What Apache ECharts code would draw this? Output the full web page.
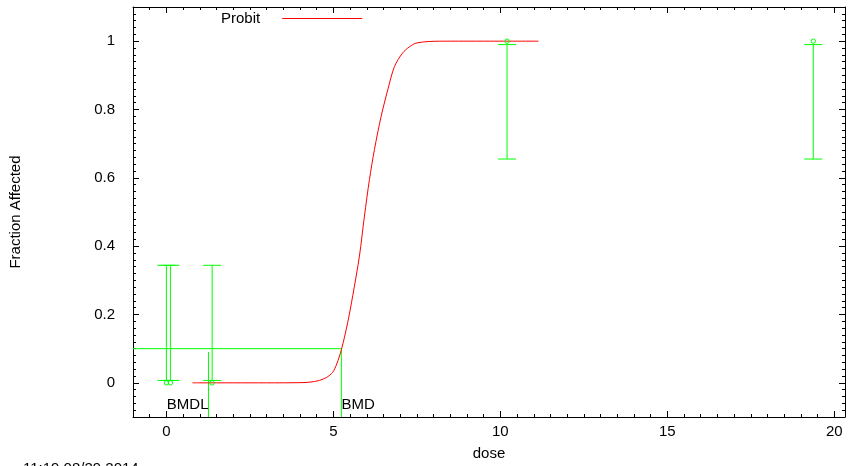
<!DOCTYPE html>
<html>
<head>
<meta charset="utf-8">
<script src="https://cdn.jsdelivr.net/npm/echarts@6/dist/echarts.min.js"></script>
<style>
  html, body { margin: 0; padding: 0; background: #fff; }
  #chart { width: 848px; height: 466px; }
</style>
</head>
<body>
<div id="chart"></div>
<script>
// axis ranges + tick labels
const doseMin = -1
const doseMax = 20.32
const fracMin = -0.1
const fracMax = 1.1
const doseTicks = [0, 5, 10, 15, 20]
const fracTicks = [0, 0.2, 0.4, 0.6, 0.8, 1]

// fitted probit curve
const curveDose = [0.78, 1, 2, 3, 4, 4.3, 4.58, 4.8, 4.98, 5.1, 5.24, 5.43, 5.58, 5.78, 5.93, 6.08, 6.23, 6.43, 6.63, 6.83, 7.07, 7.27, 7.47, 7.87, 8.5, 9.5, 11.14]
const curveFrac = [0, 0, 0, 0, 0.0005, 0.002, 0.007, 0.016, 0.031, 0.055, 0.097, 0.177, 0.255, 0.371, 0.488, 0.595, 0.683, 0.78, 0.858, 0.926, 0.965, 0.983, 0.994, 0.999, 1, 1, 1]

// observed points with confidence limits
const obsDose = [0, 0.12, 1.37, 10.2, 19.37]
const obsFrac = [0, 0, 0, 1, 1]
const obsLower = [0.007, 0.007, 0.007, 0.655, 0.655]
const obsUpper = [0.344, 0.344, 0.344, 0.99, 0.99]

// benchmark dose
const bmr = 0.1
const bmd = 5.24
const bmdl = 1.26
const bmdlTop = 0.09

const green = '#00ff00'
const font = 'Liberation Sans, Arial, sans-serif'

// minor tick positions (gnuplot style ticks)
const doseMinor = []
for (let v = -1; v <= doseMax; v += 0.5) doseMinor.push(v)
const fracMinor = []
for (let i = -5; i <= 55; i++) fracMinor.push(+(i * 0.02).toFixed(2))

const xAx = (pos, major, showLine, showLabel) => ({
  type: 'value', position: pos, min: doseMin, max: doseMax,
  name: showLabel ? 'dose' : '', nameLocation: 'middle', nameGap: 29,
  nameTextStyle: {color: '#000', fontSize: 15, fontFamily: font},
  axisLine: {show: showLine, onZero: false, lineStyle: {color: '#000', width: 1}},
  axisTick: {show: true, inside: true, length: major ? 6 : 3, customValues: major ? doseTicks : doseMinor, lineStyle: {color: '#000'}},
  axisLabel: {show: showLabel, customValues: doseTicks, margin: 7, color: '#000', fontSize: 15, fontFamily: font},
  splitLine: {show: false}
})
const yAx = (pos, major, showLine, showLabel) => ({
  type: 'value', position: pos, min: fracMin, max: fracMax,
  name: showLabel ? 'Fraction Affected' : '', nameLocation: 'middle', nameGap: 110,
  nameTextStyle: {color: '#000', fontSize: 15, fontFamily: font},
  axisLine: {show: showLine, onZero: false, lineStyle: {color: '#000', width: 1}},
  axisTick: {show: true, inside: true, length: major ? 6 : 3, customValues: major ? fracTicks : fracMinor, lineStyle: {color: '#000'}},
  axisLabel: {show: showLabel, customValues: fracTicks, margin: 18, color: '#000', fontSize: 15, fontFamily: font},
  splitLine: {show: false}
})

const chart = echarts.init(document.getElementById('chart'), null, {renderer: 'canvas'})

const option = {
  animation: false,
  backgroundColor: '#fff',
  grid: {left: 133, right: 3, top: 7, bottom: 47, containLabel: false},
  legend: {
    data: ['Probit'], left: 221, top: 11, padding: 0, align: 'right',
    icon: 'rect', itemWidth: 80, itemHeight: 1,
    textStyle: {color: '#000', fontSize: 15, fontFamily: font, padding: [0, 17, 0, 0]}
  },
  xAxis: [
    xAx('bottom', true, true, true),
    xAx('bottom', false, false, false),
    xAx('top', true, true, false),
    xAx('top', false, false, false)
  ],
  yAxis: [
    yAx('left', true, true, true),
    yAx('left', false, false, false),
    yAx('right', true, true, false),
    yAx('right', false, false, false)
  ],
  graphic: [{
    type: 'text', left: 23, top: 461,
    style: {text: '11:19 08/29 2014', fill: '#000', font: '15px ' + font}
  }],
  series: [
    {
      name: 'Probit',
      type: 'line',
      data: curveDose.map((d, i) => [d, curveFrac[i]]),
      showSymbol: false,
      smooth: 0.3,
      lineStyle: {color: '#ff0000', width: 1},
      itemStyle: {color: '#ff0000'},
      z: 3
    },
    {
      name: 'obs',
      type: 'custom',
      data: obsDose.map((d, i) => [d, obsFrac[i], obsLower[i], obsUpper[i]]),
      renderItem: (params, api) => {
        const mid = api.coord([api.value(0), api.value(1)])
        const lo = api.coord([api.value(0), api.value(2)])
        const hi = api.coord([api.value(0), api.value(3)])
        const w = 9
        const st = {stroke: green, lineWidth: 1, fill: null}
        return {
          type: 'group',
          children: [
            {type: 'line', shape: {x1: lo[0], y1: lo[1], x2: hi[0], y2: hi[1]}, style: st},
            {type: 'line', shape: {x1: lo[0] - w, y1: lo[1], x2: lo[0] + w, y2: lo[1]}, style: st},
            {type: 'line', shape: {x1: hi[0] - w, y1: hi[1], x2: hi[0] + w, y2: hi[1]}, style: st},
            {type: 'circle', shape: {cx: mid[0], cy: mid[1], r: 2.2}, style: st}
          ]
        }
      },
      z: 4
    },
    {
      name: 'bmd',
      type: 'custom',
      data: [[bmd, bmr, bmdl, bmdlTop]],
      renderItem: (params, api) => {
        const left = api.coord([doseMin, api.value(1)])
        const top = api.coord([api.value(0), api.value(1)])
        const bot = api.coord([api.value(0), fracMin])
        const lTop = api.coord([api.value(2), api.value(3)])
        const lBot = api.coord([api.value(2), fracMin])
        const st = {stroke: green, lineWidth: 1}
        const ts = {fill: '#000', font: '15px ' + font, textVerticalAlign: 'middle'}
        return {
          type: 'group',
          children: [
            {type: 'line', shape: {x1: left[0], y1: left[1], x2: top[0], y2: top[1]}, style: st},
            {type: 'line', shape: {x1: top[0], y1: top[1], x2: bot[0], y2: bot[1]}, style: st},
            {type: 'line', shape: {x1: lTop[0], y1: lTop[1], x2: lBot[0], y2: lBot[1]}, style: st},
            {type: 'text', x: lBot[0], y: lBot[1] - 12, style: Object.assign({text: 'BMDL', textAlign: 'right'}, ts)},
            {type: 'text', x: bot[0], y: bot[1] - 12, style: Object.assign({text: 'BMD', textAlign: 'left'}, ts)}
          ]
        }
      },
      z: 2
    }
  ]
}

chart.setOption(option)
</script>
</body>
</html>
